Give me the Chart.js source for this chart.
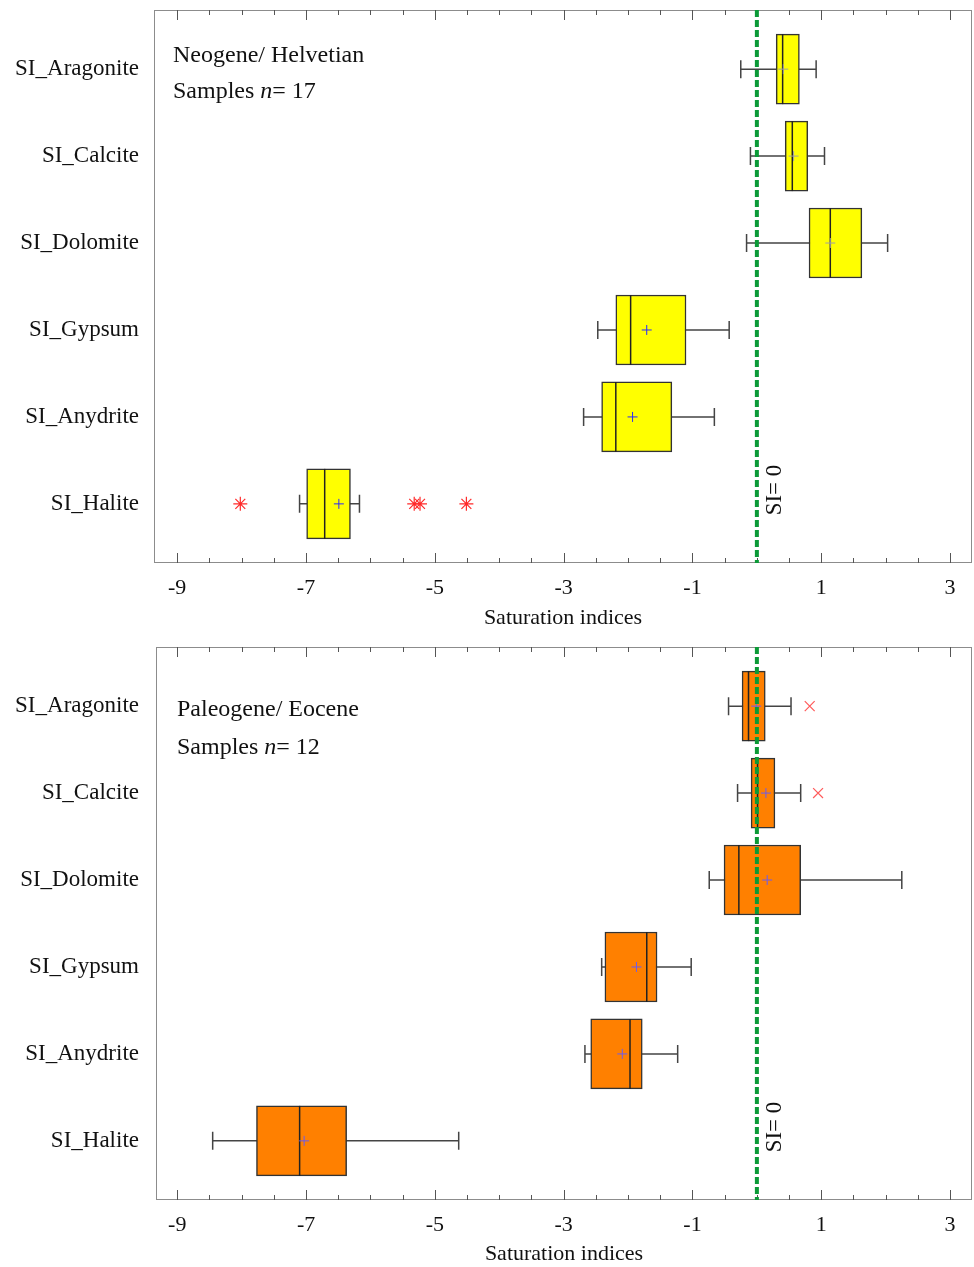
<!DOCTYPE html>
<html>
<head>
<meta charset="utf-8">
<script src="https://cdn.jsdelivr.net/npm/chart.js@4.4.1/dist/chart.umd.min.js"></script>
<style>
  body { margin: 0; background: #fff; }
  canvas { position: absolute; left: 0; }
  #neo { top: 0; }
  #paleo { top: 637px; }
</style>
</head>
<body>
<canvas id="neo" width="974" height="631"></canvas>
<canvas id="paleo" width="974" height="630"></canvas>
<script>
'use strict';

//row names, top to bottom
const categories = ['SI_Aragonite', 'SI_Calcite', 'SI_Dolomite', 'SI_Gypsum', 'SI_Anydrite', 'SI_Halite'];
const rows = [1, 2, 3, 4, 5, 6];

//x axis: tick every 0.5, label on the odd integers
const xTickValues = [-9, -8.5, -8, -7.5, -7, -6.5, -6, -5.5, -5, -4.5, -4, -3.5, -3, -2.5, -2, -1.5, -1, -0.5, 0, 0.5, 1, 1.5, 2, 2.5, 3];
const xTickLabels = [-9, -7, -5, -3, -1, 1, 3];

//Neogene / Helvetian (n = 17)
const neoLow    = [-0.25, -0.10, -0.16, -2.47, -2.69, -7.10];
const neoQ1     = [0.30, 0.44, 0.81, -2.19, -2.41, -6.99];
const neoMedian = [0.40, 0.55, 1.14, -1.96, -2.19, -6.71];
const neoQ3     = [0.66, 0.79, 1.63, -1.10, -1.32, -6.31];
const neoHigh   = [0.92, 1.05, 2.03, -0.43, -0.66, -6.17];
const neoMean   = [0.41, 0.57, 1.14, -1.71, -1.93, -6.49];
const neoOutRow = [6, 6, 6, 6];
const neoOutVal = [-8.02, -5.32, -5.23, -4.51];

//Paleogene / Eocene (n = 12)
const paleoLow    = [-0.44, -0.30, -0.74, -2.41, -2.67, -8.45];
const paleoQ1     = [-0.23, -0.09, -0.51, -2.36, -2.58, -7.77];
const paleoMedian = [-0.13, 0.01, -0.28, -1.71, -1.97, -7.10];
const paleoQ3     = [0.13, 0.28, 0.68, -1.55, -1.78, -6.37];
const paleoHigh   = [0.53, 0.68, 2.25, -1.02, -1.23, -4.63];
const paleoMean   = [-0.01, 0.14, 0.16, -1.87, -2.09, -7.03];
const paleoOutRow = [1, 2];
const paleoOutVal = [0.82, 0.95];

const serif = "'Liberation Serif', 'Times New Roman', serif";

//whiskers, medians, frame, inner ticks, SI = 0 line and the notes
function boxParts(s, look){
  return {
    id: 'boxParts',
    beforeDatasetsDraw(chart){
      let ctx = chart.ctx;
      let a = chart.chartArea;
      let xs = chart.scales.x;
      ctx.save();
      //frame
      ctx.strokeStyle = '#8c8c8c';
      ctx.lineWidth = 1;
      ctx.strokeRect(a.left + 0.5, a.top + 0.5, a.right - a.left - 1, a.bottom - a.top - 1);
      //ticks pointing inside, on bottom and top edge
      ctx.strokeStyle = '#555';
      for(let t of xs.ticks){
        let px = Math.round(xs.getPixelForValue(t.value)) + 0.5;
        let len = xTickLabels.includes(t.value) ? 10 : 5;
        ctx.beginPath();
        ctx.moveTo(px, a.bottom);
        ctx.lineTo(px, a.bottom - len);
        ctx.moveTo(px, a.top);
        ctx.lineTo(px, a.top + len);
        ctx.stroke();
      }
      ctx.restore();
    },
    beforeDatasetDraw(chart, args){
      if(args.meta.type !== 'bar'){
        return;
      }
      let ctx = chart.ctx;
      let xs = chart.scales.x;
      let ys = chart.scales.y;
      ctx.save();
      ctx.strokeStyle = '#444';
      ctx.lineWidth = 1.5;
      for(let i = 0; i < rows.length; i++){
        let py = ys.getPixelForValue(rows[i]);
        let x0 = xs.getPixelForValue(s.low[i]);
        let x1 = xs.getPixelForValue(s.high[i]);
        ctx.beginPath();
        ctx.moveTo(x0, py);
        ctx.lineTo(x1, py);
        ctx.moveTo(x0, py - 9);
        ctx.lineTo(x0, py + 9);
        ctx.moveTo(x1, py - 9);
        ctx.lineTo(x1, py + 9);
        ctx.stroke();
      }
      ctx.restore();
    },
    afterDatasetDraw(chart, args){
      if(args.meta.type !== 'bar'){
        return;
      }
      let ctx = chart.ctx;
      let xs = chart.scales.x;
      let ys = chart.scales.y;
      ctx.save();
      ctx.strokeStyle = '#222';
      ctx.lineWidth = 1.5;
      for(let i = 0; i < rows.length; i++){
        let py = ys.getPixelForValue(rows[i]);
        let pm = xs.getPixelForValue(s.median[i]);
        ctx.beginPath();
        ctx.moveTo(pm, py - 35);
        ctx.lineTo(pm, py + 35);
        ctx.stroke();
      }
      ctx.restore();
    },
    afterDatasetsDraw(chart){
      let ctx = chart.ctx;
      let a = chart.chartArea;
      let px = chart.scales.x.getPixelForValue(0);
      ctx.save();
      //SI = 0
      ctx.strokeStyle = '#0b9a37';
      ctx.lineWidth = 4;
      ctx.setLineDash([7, 3]);
      ctx.beginPath();
      ctx.moveTo(px, a.top);
      ctx.lineTo(px, a.bottom);
      ctx.stroke();
      ctx.setLineDash([]);

      ctx.fillStyle = '#111';
      ctx.font = `23px ${serif}`;
      ctx.translate(px + 18, a.bottom - 73);
      ctx.rotate(-Math.PI / 2);
      ctx.textAlign = 'center';
      ctx.textBaseline = 'middle';
      ctx.fillText('SI= 0', 0, 0);
      ctx.restore();

      //group notes
      ctx.save();
      ctx.fillStyle = '#111';
      ctx.textBaseline = 'alphabetic';
      ctx.font = `24px ${serif}`;
      let tx = a.left + look.noteDx;
      ctx.fillText(look.title, tx, a.top + look.titleDy);
      let sy = a.top + look.samplesDy;
      ctx.fillText('Samples ', tx, sy);
      tx += ctx.measureText('Samples ').width;
      ctx.font = `italic 24px ${serif}`;
      ctx.fillText('n', tx, sy);
      tx += ctx.measureText('n').width;
      ctx.font = `24px ${serif}`;
      ctx.fillText('= ' + look.n, tx, sy);
      ctx.restore();
    }
  };
}

function boxChart(canvasId, s, look){
  let canv = document.getElementById(canvasId);
  const config = {
    type: 'bar',
    data: {
      datasets: [
        {
          type: 'scatter',
          data: s.mean.map((v, i) => ({x: v, y: rows[i]})),
          pointStyle: 'cross',
          pointRadius: 5,
          pointBorderColor: look.meanColors,
          pointBorderWidth: 1,
          order: 0
        },
        {
          type: 'scatter',
          data: s.outVal.map((v, i) => ({x: v, y: s.outRow[i]})),
          pointStyle: look.outStyle,
          pointRadius: 7,
          pointBorderColor: look.outColor,
          pointBorderWidth: 1.2,
          order: 0
        },
        {
          type: 'bar',
          data: rows.map((r, i) => ({y: r, x: [s.q1[i], s.q3[i]]})),
          backgroundColor: look.fill,
          borderColor: '#333',
          borderWidth: 1.5,
          borderSkipped: false,
          barThickness: 70,
          order: 1
        }
      ]
    },
    options: {
      indexAxis: 'y',
      responsive: false,
      animation: false,
      layout: {autoPadding: false, padding: {top: 10, right: 2, left: 0, bottom: 0}},
      plugins: {legend: {display: false}, tooltip: {enabled: false}},
      scales: {
        x: {
          type: 'linear',
          offset: false,
          min: look.xMin,
          max: 3.34,
          afterBuildTicks: sc => { sc.ticks = xTickValues.map(v => ({value: v})); },
          afterFit: sc => { sc.height = look.xHeight; sc.paddingLeft = 0; sc.paddingRight = 0; },
          grid: {display: false, tickLength: 0},
          border: {display: false},
          ticks: {
            autoSkip: false,
            maxRotation: 0,
            padding: 12,
            color: '#111',
            font: {family: serif, size: 22},
            callback: v => xTickLabels.includes(v) ? String(v) : ''
          },
          title: {
            display: true,
            text: 'Saturation indices',
            color: '#111',
            padding: 0,
            font: {family: serif, size: 22}
          }
        },
        y: {
          type: 'linear',
          offset: false,
          reverse: true,
          min: 0.32,
          max: 6.68,
          afterBuildTicks: sc => { sc.ticks = rows.map(v => ({value: v})); },
          afterFit: sc => { sc.width = look.yWidth; sc.paddingTop = 0; sc.paddingBottom = 0; },
          grid: {display: false, tickLength: 0},
          border: {display: false},
          ticks: {
            padding: look.yPad,
            color: '#111',
            font: {family: serif, size: 23},
            callback: v => categories[v - 1]
          }
        }
      }
    },
    plugins: [boxParts(s, look)]
  };
  return new Chart(canv, config);
}

boxChart('neo',
  {low: neoLow, q1: neoQ1, median: neoMedian, q3: neoQ3, high: neoHigh, mean: neoMean, outRow: neoOutRow, outVal: neoOutVal},
  {fill: '#ffff00', meanColors: ['#a0a0a0', '#a0a0a0', '#a0a0a0', '#2a2aff', '#2a2aff', '#2a2aff'],
   outStyle: 'star', outColor: '#ff2a2a', xMin: -9.36, xHeight: 68, yWidth: 154, yPad: 15,
   title: 'Neogene/ Helvetian', n: 17, noteDx: 19, titleDy: 52, samplesDy: 88});

boxChart('paleo',
  {low: paleoLow, q1: paleoQ1, median: paleoMedian, q3: paleoQ3, high: paleoHigh, mean: paleoMean, outRow: paleoOutRow, outVal: paleoOutVal},
  {fill: '#ff8000', meanColors: '#6a5cf0',
   outStyle: 'crossRot', outColor: '#ff5a5a', xMin: -9.33, xHeight: 67, yWidth: 156, yPad: 17,
   title: 'Paleogene/ Eocene', n: 12, noteDx: 21, titleDy: 69, samplesDy: 107});
</script>
</body>
</html>
